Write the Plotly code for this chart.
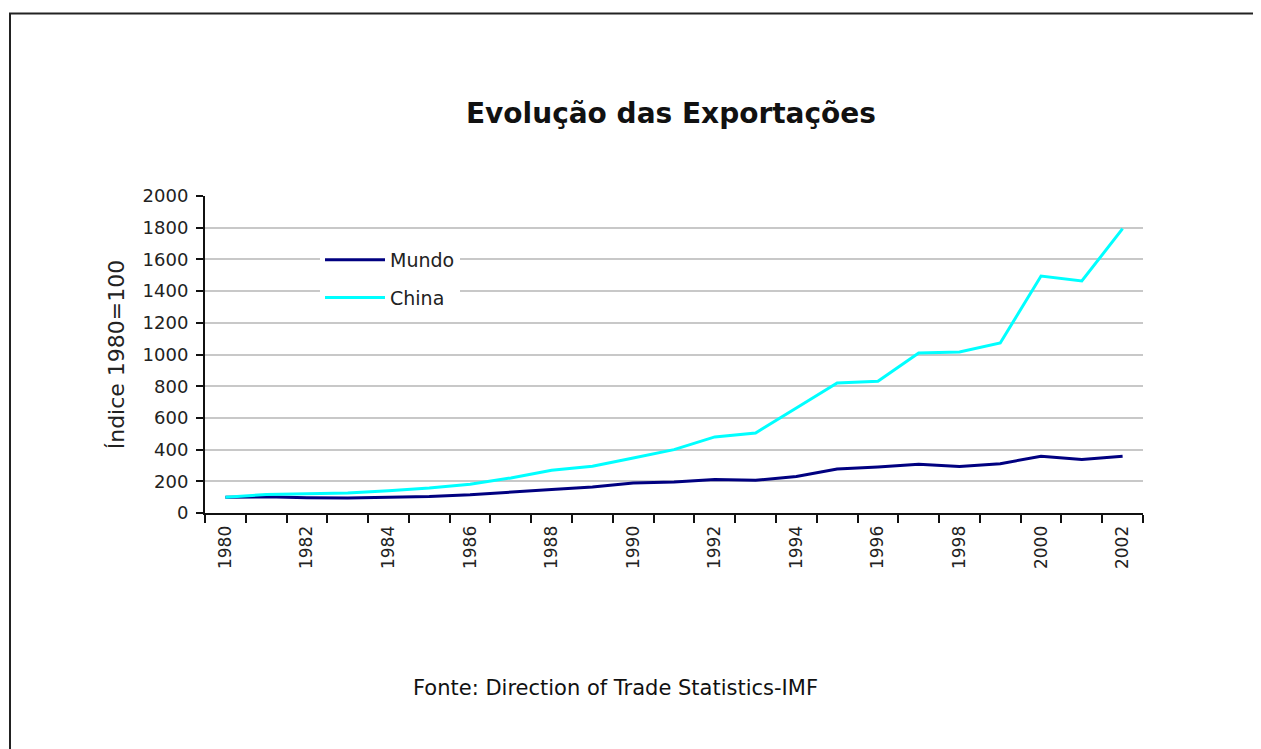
import plotly.graph_objects as go

years = list(range(1980, 2003))
mundo = [100, 102, 97, 94, 99, 104, 115, 133, 149, 164, 189, 196, 212, 206, 231, 278, 290, 307, 294, 311, 358, 337, 358]
china = [100, 116, 121, 126, 140, 158, 182, 221, 269, 295, 347, 400, 480, 505, 662, 820, 831, 1009, 1016, 1073, 1495, 1464, 1794]
label_years = list(range(1980, 2003, 2))
boundaries = [y - 0.5 for y in range(1980, 2004)]

OFF = 8  # page body margin
W, H = 1261 - OFF, 749 - OFF
# plot area in page pixels
L, R, T, B = 205, 1143, 196, 513

def px(x):
    return (x - L) / (R - L)

def py(y):
    return (B - y) / (B - T)

FONT = "DejaVu Sans"

fig = go.Figure()
fig.add_trace(go.Scatter(x=years, y=mundo, mode="lines", name="Mundo",
                         line=dict(color="#000080", width=3), legendgroup="a"))
fig.add_trace(go.Scatter(x=years, y=china, mode="lines", name="China",
                         line=dict(color="#00FFFF", width=3), legendgroup="b"))

fig.update_layout(
    width=W, height=H,
    margin=dict(l=L - OFF, r=W - (R - OFF), t=T - OFF, b=H - (B - OFF), autoexpand=False),
    paper_bgcolor="white", plot_bgcolor="white",
    font=dict(family=FONT, color="#222222", size=18),
    title=dict(text="<b>Evolução das Exportações</b>", x=(671 - OFF) / W, xanchor="center",
               y=1 - (113 - OFF) / H, yanchor="middle", font=dict(size=28, color="#111111")),
    showlegend=True,
    legend=dict(x=px(320), y=py(241), xanchor="left", yanchor="top",
                bgcolor="white", borderwidth=0, font=dict(size=19),
                tracegroupgap=10, itemwidth=60),
    xaxis=dict(range=[1979.5, 2002.5], tickvals=label_years,
               ticktext=[str(y) for y in label_years], tickangle=-90,
               ticks="", showgrid=False, zeroline=False,
               showline=True, linecolor="#111111", linewidth=2,
               ticklabelstandoff=4,
               minor=dict(tickvals=boundaries, ticks="outside", ticklen=8,
                          tickwidth=2, tickcolor="#111111", showgrid=False),
               tickfont=dict(size=17)),
    yaxis=dict(range=[0, 2000], dtick=200, tick0=0,
               ticks="outside", ticklen=7, tickwidth=2, tickcolor="#111111",
               showline=True, linecolor="#111111", linewidth=2,
               showgrid=True, gridcolor="#c8c8c8", gridwidth=2,
               zeroline=False, tickfont=dict(size=18), ticklabelstandoff=4,
               title=dict(text="Índice 1980=100", font=dict(size=22), standoff=12)),
)

fig.add_annotation(text="Fonte: Direction of Trade Statistics-IMF", xref="paper", yref="paper",
                   x=px(615), y=py(688), xanchor="center", yanchor="middle",
                   showarrow=False, font=dict(size=21, color="#111111"))

fig.add_shape(type="rect", xref="paper", yref="paper",
              x0=px(10), x1=px(1285), y0=py(13.5), y1=py(775),
              line=dict(color="#222222", width=2), fillcolor="rgba(0,0,0,0)", layer="above")

fig.write_html("out.html")
